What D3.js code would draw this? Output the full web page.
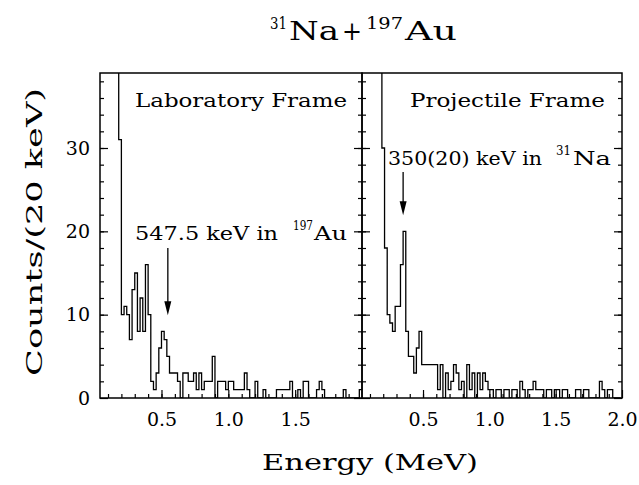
<!DOCTYPE html>
<html>
<head>
<meta charset="utf-8">
<script src="https://cdn.jsdelivr.net/npm/d3@7"></script>
<style>
body { margin: 0; background: #fff; }
svg text { font-family: "DejaVu Serif", serif; fill: #000; }
</style>
</head>
<body>
<div id="chart"></div>
<script>
// histogram data, 20 keV bins
var binWidth = 0.02;
var labStart = 0.18;
var labCounts = [31,10,11,10,7,13,15,8,12,8,
                 16,10,2,1,3,6,8,7,5,3,
                 3,3,2,0,3,3,2,2,3,1,
                 3,1,2,2,2,5,0,2,2,2,
                 1,2,2,1,1,1,1,3,1,0,
                 0,2,0,0,1,0,0,0,0,1,
                 1,1,1,1,2,0,0,1,0,2,
                 2,0,0,0,1,2,1,0,0,0,
                 0,0,0,0,1,0,0,0,0,0,1];
var projStart = 0.19;
var projCounts = [30,18,10,9,8,11,11,16,20,8,
                  5,5,3,6,8,4,4,4,4,4,
                  4,1,4,0,3,1,2,4,3,1,
                  2,0,4,1,3,0,3,1,3,2,
                  1,1,0,1,1,0,1,1,0,1,
                  1,0,2,1,0,1,1,2,1,1,
                  1,0,1,1,0,1,1,0,1,1,
                  0,0,0,1,1,0,1,1,0,0,
                  0,0,2,1,0,1,1,0,0,0];
var offScale = 99;

var yMajor = [0,10,20,30];
var yMinor = d3.range(2, 39, 2);
var labXTicks = [0.5,1.0,1.5];
var projXTicks = [0.5,1.0,1.5,2.0];
var xMinor = d3.range(1, 20).map(function(d){ return d/10; });

var panels = [
    {id:'lab', start:labStart, counts:labCounts, xTicks:labXTicks, x0:100, x1:362,
     title:'Laboratory Frame', peak:0.5475, peakCount:8,
     label:['547.5 keV in','197','Au']},
    {id:'proj', start:projStart, counts:projCounts, xTicks:projXTicks, x0:362, x1:622,
     title:'Projectile Frame', peak:0.35, peakCount:20,
     label:['350(20) keV in','31','Na']}
];

var width = 639, height = 485;
var plotTop = 73, plotBottom = 398;

var svg = d3.select('#chart').append('svg')
    .attr('width', width).attr('height', height);

var y = d3.scaleLinear().domain([0, 39]).range([plotBottom, plotTop]);

var fmt = d3.format('.1f');

panels.forEach(function(p) {
    var x = d3.scaleLinear().domain([0.04, 2.0]).range([p.x0, p.x1]);
    var g = svg.append('g').attr('class', 'panel_' + p.id);

    svg.append('clipPath').attr('id', 'clip_' + p.id)
        .append('rect').attr('x', p.x0).attr('y', plotTop)
        .attr('width', p.x1 - p.x0).attr('height', plotBottom - plotTop);

    // histogram as step line
    var pts = [[p.start - binWidth, offScale]];
    p.counts.forEach(function(c, i) { pts.push([p.start + i * binWidth, c]); });
    pts.push([p.start + p.counts.length * binWidth, p.counts[p.counts.length - 1]]);

    var line = d3.line()
        .x(function(d){ return x(d[0]); })
        .y(function(d){ return y(d[1]); })
        .curve(d3.curveStepAfter);

    g.append('path')
        .datum(pts)
        .attr('clip-path', 'url(#clip_' + p.id + ')')
        .attr('d', line)
        .attr('fill', 'none')
        .attr('stroke', '#000')
        .attr('stroke-width', 1.3);

    // ticks, pointing inward
    g.append('g').attr('transform', 'translate(0,' + plotBottom + ')')
        .call(d3.axisBottom(x).tickValues(p.xTicks).tickSize(-8).tickPadding(15).tickFormat(fmt));
    g.append('g').attr('transform', 'translate(0,' + plotBottom + ')')
        .call(d3.axisBottom(x).tickValues(xMinor).tickSize(-4).tickFormat(''));
    g.append('g').attr('transform', 'translate(' + p.x0 + ',0)')
        .call(d3.axisLeft(y).tickValues(yMajor).tickSize(-8).tickPadding(10)
            .tickFormat(p.id === 'lab' ? d3.format('d') : ''));
    g.append('g').attr('transform', 'translate(' + p.x0 + ',0)')
        .call(d3.axisLeft(y).tickValues(yMinor).tickSize(-4).tickFormat(''));
    g.append('g').attr('transform', 'translate(' + p.x1 + ',0)')
        .call(d3.axisRight(y).tickValues(yMajor).tickSize(-8).tickFormat(''));
    g.append('g').attr('transform', 'translate(' + p.x1 + ',0)')
        .call(d3.axisRight(y).tickValues(yMinor).tickSize(-4).tickFormat(''));

    g.selectAll('.domain').remove();
    g.selectAll('.tick line').attr('stroke', '#000').attr('stroke-width', 1.2);
    g.selectAll('.tick text').attr('font-family', '"DejaVu Serif", serif')
        .attr('font-size', 19).attr('fill', '#000');

    // frame
    g.append('rect')
        .attr('x', p.x0).attr('y', plotTop)
        .attr('width', p.x1 - p.x0).attr('height', plotBottom - plotTop)
        .attr('fill', 'none').attr('stroke', '#000').attr('stroke-width', 1.5);

    p.xScale = x;
});

var lab = panels[0], proj = panels[1];

// panel titles
svg.append('text').attr('x', 135).attr('y', 107)
    .attr('font-size', 18).attr('textLength', 212).attr('lengthAdjust', 'spacingAndGlyphs')
    .text(lab.title);
svg.append('text').attr('x', 410).attr('y', 107)
    .attr('font-size', 18).attr('textLength', 195).attr('lengthAdjust', 'spacingAndGlyphs')
    .text(proj.title);

// peak labels with superscripts
function peakLabel(p, xStart, yBase, w1, xSup, wSup, xEl, wEl) {
    svg.append('text').attr('x', xStart).attr('y', yBase)
        .attr('font-size', 18).attr('textLength', w1).attr('lengthAdjust', 'spacingAndGlyphs')
        .text(p.label[0]);
    svg.append('text').attr('x', xSup).attr('y', yBase - 10)
        .attr('font-size', 12).attr('textLength', wSup).attr('lengthAdjust', 'spacingAndGlyphs')
        .text(p.label[1]);
    svg.append('text').attr('x', xEl).attr('y', yBase)
        .attr('font-size', 18).attr('textLength', wEl).attr('lengthAdjust', 'spacingAndGlyphs')
        .text(p.label[2]);
}
peakLabel(lab, 135, 240, 143, 293, 20, 314, 33);
peakLabel(proj, 388, 165, 154, 556, 15, 573, 38);

// arrows
function arrow(p, y0, y1) {
    var ax = p.xScale(p.peak);
    svg.append('line').attr('x1', ax).attr('x2', ax).attr('y1', y0).attr('y2', y1 - 10)
        .attr('stroke', '#000').attr('stroke-width', 1.3);
    svg.append('path')
        .attr('d', 'M' + (ax - 3.5) + ',' + (y1 - 14) + 'L' + (ax + 3.5) + ',' + (y1 - 14) + 'L' + ax + ',' + y1 + 'Z')
        .attr('fill', '#000');
}
arrow(lab, 248, y(lab.peakCount) - 16);
arrow(proj, 172, y(proj.peakCount) - 16);

// main title
var title = svg.append('g');
title.append('text').attr('x', 270).attr('y', 29).attr('font-size', 16)
    .attr('textLength', 17).attr('lengthAdjust', 'spacingAndGlyphs').text('31');
title.append('text').attr('x', 289).attr('y', 40).attr('font-size', 26)
    .attr('textLength', 50).attr('lengthAdjust', 'spacingAndGlyphs').text('Na');
title.append('text').attr('x', 342).attr('y', 40).attr('font-size', 26)
    .attr('textLength', 20).attr('lengthAdjust', 'spacingAndGlyphs').text('+');
title.append('text').attr('x', 366).attr('y', 29).attr('font-size', 16)
    .attr('textLength', 37).attr('lengthAdjust', 'spacingAndGlyphs').text('197');
title.append('text').attr('x', 405).attr('y', 40).attr('font-size', 26)
    .attr('textLength', 52).attr('lengthAdjust', 'spacingAndGlyphs').text('Au');

// axis titles
svg.append('text').attr('x', 262).attr('y', 470)
    .attr('font-size', 23).attr('textLength', 216).attr('lengthAdjust', 'spacingAndGlyphs')
    .text('Energy (MeV)');
svg.append('text').attr('transform', 'translate(42,232) rotate(-90)')
    .attr('text-anchor', 'middle')
    .attr('font-size', 23).attr('textLength', 288).attr('lengthAdjust', 'spacingAndGlyphs')
    .text('Counts/(20 keV)');
</script>
</body>
</html>
